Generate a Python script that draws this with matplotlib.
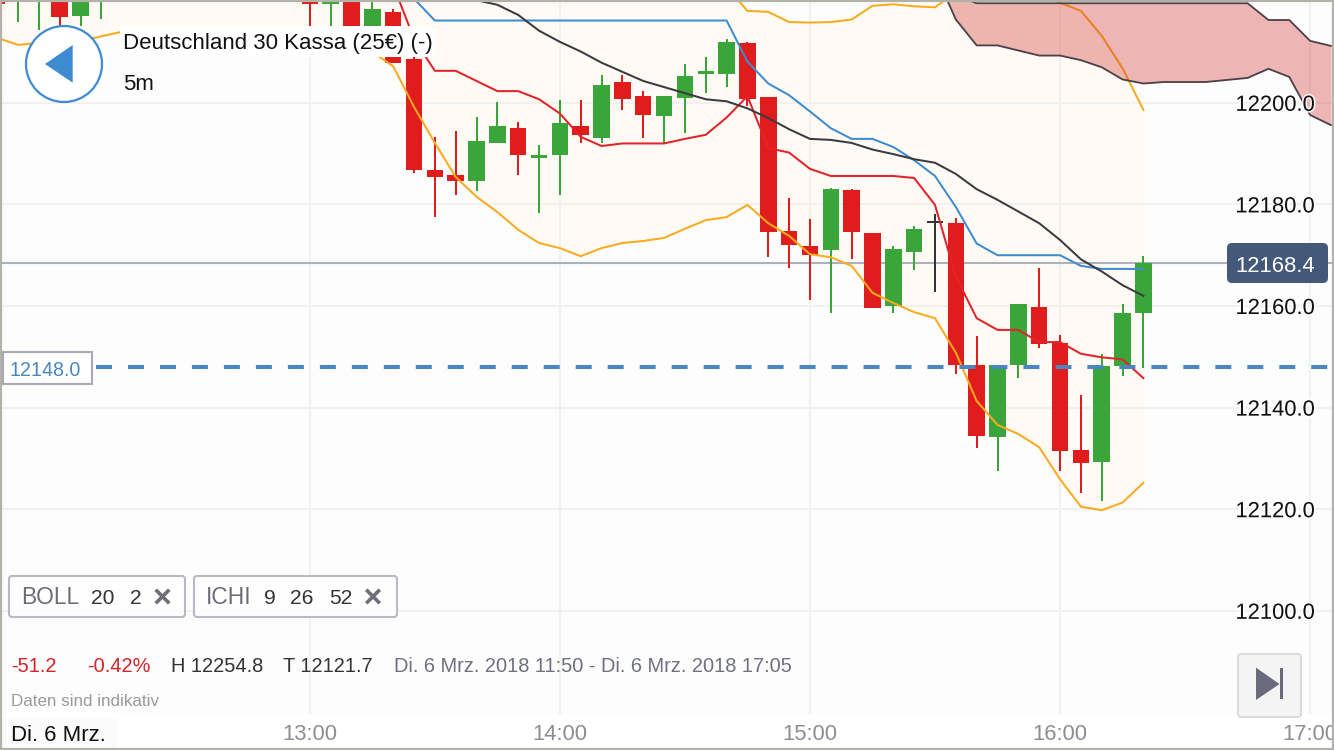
import matplotlib
matplotlib.use("Agg")
import matplotlib.pyplot as plt
import matplotlib.patheffects as pe
from matplotlib.patches import Rectangle, Circle, Polygon, FancyBboxPatch
import numpy as np

plt.rcParams['font.family'] = ['Liberation Sans', 'DejaVu Sans']

# --- data (minutes since midnight on the x axis, price on the y axis) ---
candle_times = list(range(705, 735, 5)) + list(range(780, 985, 5))
opens = [12225, 12219.8, 12223, 12226, 12217.1, 12222,
         12220.1, 12219.5, 12226, 12215.1, 12217.9, 12208.6, 12186.8, 12185.8, 12184.6, 12192.0, 12195.0,
         12189.2, 12189.7, 12195.4, 12193.1, 12204.0, 12201.4, 12197.5, 12201.0, 12205.7, 12205.7, 12211.8,
         12201.2, 12174.7, 12171.9, 12171.1, 12182.8, 12174.4, 12160.0, 12170.6, 12176.4, 12176.3, 12148.4,
         12134.3, 12148.4, 12159.9, 12152.7, 12131.6, 12129.2, 12148.1, 12158.6]
highs = [12226, 12224, 12228, 12228, 12228, 12228,
         12224, 12224, 12227, 12221, 12218.4, 12209.5, 12193.3, 12194.4, 12197.2, 12200.2, 12196.2,
         12191.6, 12200.6, 12200.6, 12205.5, 12205.5, 12202.3, 12201.4, 12207.6, 12209.1, 12212.6, 12211.9,
         12201.2, 12181.3, 12177.2, 12183.2, 12183.0, 12174.4, 12171.8, 12175.8, 12178.1, 12177.3, 12154.0,
         12148.4, 12160.4, 12167.5, 12154.2, 12142.4, 12150.6, 12160.3, 12169.9]
lows = [12219.0, 12216.0, 12214.3, 12214, 12215.1, 12216.5,
        12215.1, 12215.1, 12215.1, 12215.1, 12207.8, 12186.2, 12177.5, 12181.9, 12182.6, 12192.0, 12185.8,
        12178.4, 12181.9, 12192.1, 12192.1, 12198.6, 12193.1, 12192.1, 12194.1, 12201.9, 12203.2, 12199.4,
        12169.6, 12167.5, 12161.2, 12158.6, 12169.3, 12159.6, 12158.6, 12167.1, 12162.8, 12146.6, 12132.0,
        12127.5, 12145.8, 12151.7, 12127.5, 12123.1, 12121.7, 12146.3, 12147.7]
closes = [12219.4, 12220.2, 12226, 12216.8, 12226, 12226,
          12219.5, 12220.1, 12215.1, 12218.4, 12207.8, 12186.7, 12185.3, 12184.7, 12192.5, 12195.4, 12189.7,
          12189.7, 12196.0, 12193.7, 12203.5, 12200.7, 12197.7, 12201.4, 12205.2, 12206.3, 12212.0, 12200.7,
          12174.6, 12172.1, 12170.1, 12183.0, 12174.6, 12159.6, 12171.2, 12175.2, 12176.4, 12148.4, 12134.5,
          12148.4, 12160.3, 12152.5, 12131.5, 12129.0, 12148.1, 12158.6, 12168.4]

band_times = list(range(705, 985, 5))
boll_upper = [12238, 12238, 12238, 12239, 12240, 12240, 12241, 12241, 12242, 12242, 12243, 12243, 12244, 12245,
              12245, 12246, 12246, 12246, 12246, 12240,
              12236, 12235, 12234, 12233, 12232, 12232, 12231, 12231, 12230, 12230, 12230, 12229, 12229, 12228,
              12226, 12222.8,
              12218.1, 12217.9, 12215.9, 12215.8, 12215.9, 12216.4, 12219.1, 12219.4, 12219.0, 12218.8, 12221.8,
              12226, 12227, 12224, 12221.3, 12219.7, 12218.1, 12213.2, 12206.8, 12198.6]
boll_lower = [12212.8, 12211.4, 12211.8, 12212.0, 12212.1, 12213.1, 12214.0, 12213.3, 12213.0, 12212.6, 12212.2,
              12211.8, 12211.4, 12211.2, 12211.0, 12210.8, 12210.6, 12210.4, 12210.0, 12207.2,
              12199.2, 12192.1, 12185.4, 12181.5, 12178.5, 12175.0, 12172.4, 12171.4, 12169.8, 12171.4, 12172.4,
              12172.8, 12173.4, 12175.2, 12176.9, 12177.5, 12179.9, 12176.3, 12173.8, 12170.2, 12169.6, 12167.9,
              12162.6, 12160.6, 12158.8, 12157.6, 12150.8, 12141.3, 12136.6, 12134.8, 12132.2, 12125.9, 12120.5,
              12119.8, 12121.3, 12125.2]
mid_times = list(range(790, 985, 5))
boll_mid = [12235, 12229, 12223.2, 12212.6, 12206.3, 12206.3, 12204.3, 12202.3, 12202.3, 12200.7, 12197.9, 12193.3,
            12191.5, 12192.0, 12192.0, 12192.0, 12192.9, 12193.7, 12197.1, 12201.3, 12191.1, 12190.2, 12187.0,
            12185.6, 12185.6, 12185.6, 12185.6, 12185.2, 12179.9, 12165.8, 12157.6, 12155.3, 12155.3, 12152.9,
            12152.9, 12150.6, 12149.9, 12149.5, 12145.8]
tenkan_times = list(range(800, 985, 5))
tenkan = [12225.1, 12220.5] + [12216.2] * 15 + [
    12208.1, 12203.8, 12201.5, 12198.3, 12195.0, 12192.9, 12192.9, 12191.3, 12188.7, 12185.6, 12179.5, 12172.3,
    12170.0, 12170.0, 12170.0, 12170.0, 12167.9, 12167.3, 12167.3, 12167.3]
kijun_times = list(range(815, 985, 5))
kijun = [12221.4, 12220.2, 12219.3, 12217.3, 12214.2, 12212.0, 12210.1, 12207.9, 12206.1, 12204.3, 12203.1, 12201.9,
         12200.7, 12200.3, 12198.9, 12197.0, 12194.8, 12192.9, 12192.7, 12192.1, 12190.8, 12189.9, 12188.9, 12188.2,
         12186.0, 12183.0, 12180.9, 12178.6, 12176.3, 12173.0, 12169.2, 12166.8, 12164.1, 12162.0]
cloud_times = list(range(930, 1030, 5))
senkou_a = [12225.6, 12216.4, 12211.3, 12211.3, 12210.3, 12209.3, 12209.3, 12208.4, 12207.0, 12204.6, 12203.8,
            12204.1, 12204.1, 12204.1, 12204.5, 12204.9, 12206.7, 12205.1, 12197.6, 12195.6]
senkou_b = [12225.6, 12221.2] + [12219.6] * 14 + [12216.3, 12216.3, 12212.2, 12211.2]

price_ticks = [12100, 12120, 12140, 12160, 12180, 12200]
hour_ticks = [780, 840, 900, 960, 1020]
hour_labels = ["13:00", "14:00", "15:00", "16:00", "17:00"]
last_price = 12168.4
order_price = 12148.0

# --- colours ---
RED, GREEN, BLACK = "#e11c1c", "#3aa53a", "#333338"
ORANGE, LINE_RED, BLUE, DARK = "#f9ab1e", "#e2232a", "#3d8bd0", "#3a3a40"

XLIM = (705.67, 1025.73)
YLIM = (12072.6, 12220.24)

fig = plt.figure(figsize=(13.34, 7.5), dpi=100, facecolor="white")
ax = fig.add_axes([0, 0, 1, 1], zorder=1)
ax.set_facecolor("#fdfdfd")
ax.set_xlim(*XLIM)
ax.set_ylim(*YLIM)
for s in ax.spines.values():
    s.set_visible(False)
ax.set_xticks(hour_ticks)
ax.set_yticks(price_ticks)
ax.tick_params(length=0, labelbottom=False, labelleft=False)
ax.set_axisbelow('line')
ax.grid(True, color="#f1f1ef", lw=1.5)

ax.fill_between(band_times, boll_lower, boll_upper, color="#fffbf4", lw=0, zorder=0.5)

ax.axhline(last_price, color="#aab2c0", lw=1.5, zorder=1.8)

# candles
t = np.array(candle_times, float)
o, h, l, c = map(np.array, (opens, highs, lows, closes))
cols = [BLACK if a == b else (RED if b < a else GREEN) for a, b in zip(o, c)]
ax.vlines(t, l, h, colors=cols, lw=1.45, zorder=2.2)
ax.bar(t, np.maximum(np.abs(c - o), 0.4), bottom=np.minimum(o, c), width=3.95, color=cols, lw=0, zorder=2.3)

# Bollinger
ax.plot(band_times, boll_upper, color=ORANGE, lw=1.45, zorder=3)
ax.plot(band_times, boll_lower, color=ORANGE, lw=1.45, zorder=3)
ax.plot(mid_times, boll_mid, color=LINE_RED, lw=1.45, zorder=3)
# Ichimoku
ax.plot(tenkan_times, tenkan, color=BLUE, lw=1.45, zorder=3.1)
ax.plot(kijun_times, kijun, color=DARK, lw=1.45, zorder=3.1)
ax.fill_between(cloud_times, senkou_a, senkou_b, color="#d0312d", alpha=0.35, lw=0, zorder=3.5)
ax.plot(cloud_times, senkou_a, color="#4a4048", lw=1.3, zorder=3.6)
ax.plot(cloud_times, senkou_b, color="#4a4048", lw=1.3, zorder=3.6)

# order line
ax.plot([XLIM[0] + 96 / 4.168, XLIM[1]], [order_price, order_price], color="#4a86c0", lw=2.9,
        dashes=(3.97, 3.97), dash_capstyle='butt', zorder=4)

# bottom strip over the grid
ax.add_patch(Rectangle((0, 0), 1, 36 / 750, transform=ax.transAxes, fc="white", ec="none", zorder=50))
ax.add_patch(Rectangle((0, 0), 117 / 1334, 32 / 750, transform=ax.transAxes, fc="#fbfbfb", ec="none", zorder=51))

# tick labels on a transparent twin so that they sit over the cloud
tx = fig.add_axes([0, 0, 1, 1], zorder=2, sharex=ax, sharey=ax)
tx.patch.set_visible(False)
for s in tx.spines.values():
    s.set_visible(False)
tx.yaxis.tick_right()
tx.set_yticks(price_ticks)
tx.set_yticklabels([f"{p:.1f}" for p in price_ticks])
tx.set_xticks(hour_ticks)
tx.set_xticklabels(hour_labels)
tx.tick_params(axis='y', length=0, pad=-13.7, labelsize=15.8, labelcolor="#111111")
tx.tick_params(axis='x', length=0, pad=-18.5, labelsize=15.8, labelcolor="#8e8e8e")
for lab in tx.get_yticklabels():
    lab.set_ha('right')
    lab.set_path_effects([pe.withStroke(linewidth=2.5, foreground="white", alpha=0.8)])
tx.set_xlim(*XLIM)
tx.set_ylim(*YLIM)

# interface layer in pixel coordinates
ui = fig.add_axes([0, 0, 1, 1], zorder=3)
ui.set_xlim(0, 1334)
ui.set_ylim(750, 0)
ui.axis('off')


def T(x, y, s, size, color="#111111", **kw):
    kw.setdefault('va', 'center_baseline')
    ui.text(x, y, s, fontsize=size * 0.72, color=color, **kw)


def chip(x0, y0, x1, y1, fc="white", ec="#b9b9c2", lw=1.5, alpha=0.85):
    ui.add_patch(FancyBboxPatch((x0 + 3, y0 + 3), x1 - x0 - 6, y1 - y0 - 6, boxstyle="round,pad=3,rounding_size=3",
                                fc=fc, ec="none", alpha=alpha))
    ui.add_patch(FancyBboxPatch((x0 + 3, y0 + 3), x1 - x0 - 6, y1 - y0 - 6, boxstyle="round,pad=3,rounding_size=3",
                                fc="none", ec=ec, lw=lw))


# back button and title
ui.add_patch(Circle((64, 64), 38, fc="white", ec=BLUE, lw=1.6))
ui.add_patch(Polygon([(45, 64), (72.7, 45), (72.7, 82.7)], fc=BLUE, ec="none"))
ui.add_patch(Rectangle((120, 26), 316, 31, fc="white", ec="none"))
T(123, 41, "Deutschland 30 Kassa (25€) (-)", 22.3, "#111111")
T(123, 81.5, "5m", 22.3, "#111111")

# last price tag and order tag
ui.add_patch(FancyBboxPatch((1231, 247), 93, 32, boxstyle="round,pad=4,rounding_size=5", fc="#44587a", ec="none"))
T(1275, 263.5, "12168.4", 22, "white", ha='center')
ui.add_patch(Rectangle((3, 352), 89, 32, fc="white", ec="#a9a9b6", lw=1.5))
T(45, 369, "12148.0", 19.7, "#4a86c0", ha='center')

# indicator chips
chip(9, 576, 185, 617)
T(21, 604.5, "BOLL", 22.7, "#6c6c78", va='baseline')
T(91, 604.5, "20", 21, "#333333", va='baseline')
T(130, 604.5, "2", 21, "#333333", va='baseline')
chip(194, 576, 397, 617)
T(206, 604.5, "ICHI", 22.7, "#6c6c78", va='baseline')
T(264, 604.5, "9", 21, "#333333", va='baseline')
T(290, 604.5, "26", 21, "#333333", va='baseline')
T(329, 604.5, "52", 21, "#333333", va='baseline')
for cx in (162.5, 373):
    ui.plot([cx - 5.5, cx + 5.5], [591, 602], color="#6f6f7a", lw=2.6)
    ui.plot([cx - 5.5, cx + 5.5], [602, 591], color="#6f6f7a", lw=2.6)

# statistics
T(11, 664.5, "-51.2", 20, "#d2232a")
T(87, 664.5, "-0.42%", 20, "#d2232a")
T(171, 664.5, "H 12254.8", 20, "#333333")
T(283, 664.5, "T 12121.7", 20, "#333333")
T(394, 664.5, "Di. 6 Mrz. 2018 11:50 - Di. 6 Mrz. 2018 17:05", 20, "#6f7080")
T(11, 699.5, "Daten sind indikativ", 17, "#9a9a9a")
T(11, 733, "Di. 6 Mrz.", 22.2, "#111111")

# jump-to-end button
chip(1238, 654, 1301, 717, fc="#f4f4f4", ec="#dcdce0", lw=1.5, alpha=1)
ui.add_patch(Polygon([(1256, 667.7), (1256, 700), (1279.5, 684)], fc="#6b6a7c", ec="none"))
ui.add_patch(Rectangle((1280, 668), 2.7, 31, fc="#6b6a7c", ec="none"))

# outer frame
ui.add_patch(Rectangle((1, 1), 1332, 748, fc="none", ec="#b2b2aa", lw=1.6))

fig.savefig("out.png", dpi=100)
